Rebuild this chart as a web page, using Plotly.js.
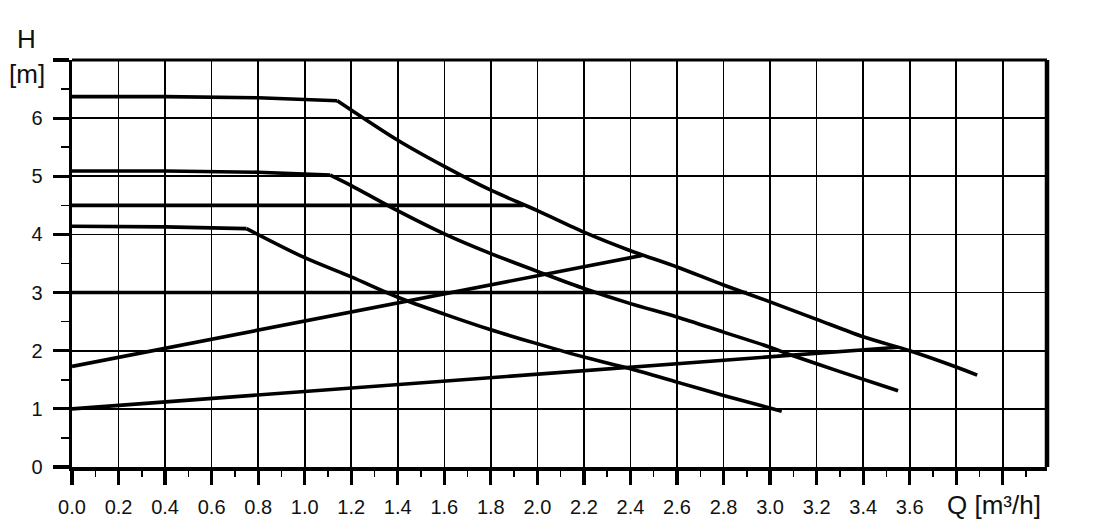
<!DOCTYPE html>
<html>
<head>
<meta charset="utf-8">
<script src="https://cdn.plot.ly/plotly-3.0.1.min.js"></script>
<style>html,body{margin:0;padding:0;background:#fff;}#chart{width:1094px;height:520px;}</style>
</head>
<body>
<div id="chart"></div>
<script>
// Pump curves (H vs Q): flat part and falling part share the knee point
const curve1FlatQ = [0, 0.4, 0.8, 1.14];
const curve1FlatH = [6.37, 6.37, 6.35, 6.30];
const curve1Q = [1.14, 1.40, 1.60, 1.80, 2.00, 2.20, 2.40, 2.60, 2.80, 3.00, 3.20, 3.40, 3.60, 3.80, 3.89];
const curve1H = [6.30, 5.62, 5.17, 4.76, 4.41, 4.04, 3.72, 3.44, 3.13, 2.84, 2.54, 2.24, 2.00, 1.72, 1.58];
const curve2FlatQ = [0, 0.4, 0.8, 1.11];
const curve2FlatH = [5.09, 5.09, 5.07, 5.02];
const curve2Q = [1.11, 1.20, 1.37, 1.60, 1.80, 2.03, 2.20, 2.40, 2.60, 2.80, 3.00, 3.08, 3.30, 3.55];
const curve2H = [5.02, 4.84, 4.47, 4.01, 3.67, 3.32, 3.07, 2.81, 2.58, 2.32, 2.06, 1.94, 1.64, 1.31];
const curve3FlatQ = [0, 0.4, 0.75];
const curve3FlatH = [4.14, 4.13, 4.10];
const curve3Q = [0.75, 1.0, 1.2, 1.4, 1.6, 1.8, 2.0, 2.2, 2.4, 2.6, 2.8, 3.05];
const curve3H = [4.10, 3.60, 3.27, 2.92, 2.63, 2.36, 2.12, 1.89, 1.69, 1.46, 1.23, 0.96];
// System curves
const lineAQ = [0, 2.45];
const lineAH = [1.73, 3.64];
const lineBQ = [0, 3.55];
const lineBH = [1.00, 2.06];
// Constant-pressure lines
const const45Q = [0, 1.94];
const const45H = [4.5, 4.5];
const const3Q = [0, 2.9];
const const3H = [3.0, 3.0];
// Ticks
const xTickVals = [0,0.2,0.4,0.6,0.8,1.0,1.2,1.4,1.6,1.8,2.0,2.2,2.4,2.6,2.8,3.0,3.2,3.4,3.6,3.8,4.0];
const xTickText = ['0.0','0.2','0.4','0.6','0.8','1.0','1.2','1.4','1.6','1.8','2.0','2.2','2.4','2.6','2.8','3.0','3.2','3.4','3.6','',''];
const yTickVals = [0,1,2,3,4,5,6,7];
const yTickText = ['0','1','2','3','4','5','6',''];

function tr(q,h,smooth){
  return {x:q, y:h, type:'scatter', mode:'lines',
    line:smooth ? {color:'#000', width:3.6, shape:'spline', smoothing:0.8} : {color:'#000', width:3.6},
    hoverinfo:'skip', showlegend:false};
}
const data = [
  tr(const45Q,const45H), tr(const3Q,const3H),
  tr(lineAQ,lineAH), tr(lineBQ,lineBH),
  tr(curve1FlatQ,curve1FlatH), tr(curve1Q,curve1H,true),
  tr(curve2FlatQ,curve2FlatH), tr(curve2Q,curve2H,true),
  tr(curve3FlatQ,curve3FlatH), tr(curve3Q,curve3H,true)
];
const font = {family:'"Liberation Sans", Arial, sans-serif', color:'#111'};
const layout = {
  width:1094, height:520,
  margin:{l:72, r:47, t:60, b:53, pad:0},
  paper_bgcolor:'#fff', plot_bgcolor:'#fff',
  showlegend:false,
  font: font,
  xaxis:{
    range:[0,4.19], tickmode:'array', tickvals:xTickVals, ticktext:xTickText,
    showgrid:true, gridcolor:'#000', gridwidth:1.6, zeroline:false,
    showline:true, linecolor:'#000', linewidth:4,
    ticks:'outside', ticklen:14, tickwidth:3.2, tickcolor:'#000',
    minor:{ticks:'outside', ticklen:6, tickwidth:1.5, tickcolor:'#000', dtick:0.1, tick0:0, showgrid:false},
    tickfont:{family:font.family, size:20, color:'#111'},
    ticklabelstandoff:5,
    fixedrange:true
  },
  yaxis:{
    range:[0,7], tickmode:'array', tickvals:yTickVals, ticktext:yTickText,
    showgrid:true, gridcolor:'#000', gridwidth:1.6, zeroline:false,
    showline:true, linecolor:'#000', linewidth:3.5,
    ticks:'outside', ticklen:16, tickwidth:3.2, tickcolor:'#000',
    minor:{ticks:'outside', ticklen:8, tickwidth:1.5, tickcolor:'#000', dtick:0.5, tick0:0, showgrid:false},
    tickfont:{family:font.family, size:20, color:'#111'},
    ticklabelstandoff:6,
    fixedrange:true
  },
  shapes:[
    {type:'line', xref:'paper', yref:'paper', x0:0, x1:1, y0:1, y1:1, line:{color:'#000', width:3}},
    {type:'line', xref:'paper', yref:'paper', x0:1, x1:1, y0:0, y1:1, line:{color:'#000', width:4.5}}
  ],
  annotations:[
    {text:'H', xref:'paper', yref:'paper', x:-0.0462, y:1.0516, xanchor:'center', yanchor:'middle', showarrow:false, font:{family:font.family, size:26, color:'#111'}},
    {text:'[m]', xref:'paper', yref:'paper', x:-0.0462, y:0.9656, xanchor:'center', yanchor:'middle', showarrow:false, font:{family:font.family, size:26, color:'#111'}},
    {text:'Q [m³/h]', xref:'paper', yref:'paper', x:0.946, y:-0.094, xanchor:'center', yanchor:'middle', showarrow:false, font:{family:font.family, size:26, color:'#111'}}
  ]
};
Plotly.newPlot('chart', data, layout, {displayModeBar:false, staticPlot:true});
</script>
</body>
</html>
